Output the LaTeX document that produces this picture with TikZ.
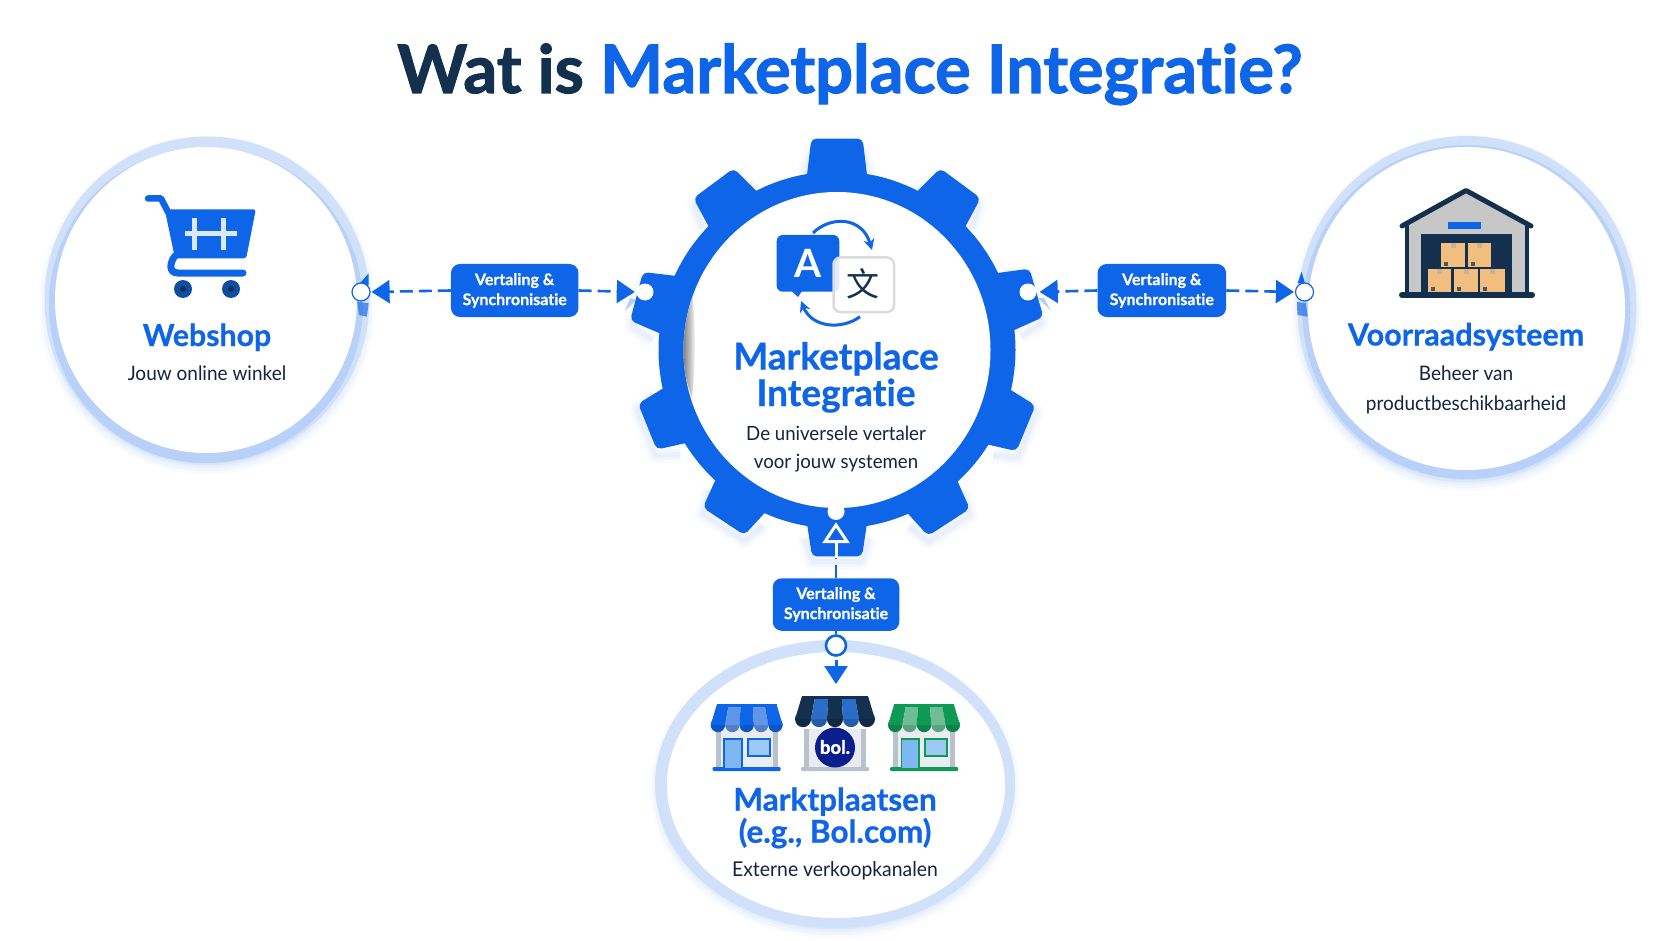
\documentclass[tikz,border=0pt]{standalone}
\usepackage{fontspec}
\setmainfont{Lato}[Ligatures={TeX,NoCommon}]
\newfontfamily\bodyfont{Lato}[Ligatures={TeX,NoCommon},FakeStretch=0.95]
\newfontfamily\headfont{Lato Bold}[Ligatures={TeX,NoCommon},FakeBold=0.7]
\newfontfamily\titlefont{Lato Bold}[Ligatures={TeX,NoCommon},FakeBold=1.6]
\newfontfamily\cjkfont{Noto Sans CJK SC}
\usetikzlibrary{arrows.meta,calc,shapes.geometric}
\definecolor{mainblue}{HTML}{0F65E8}
\definecolor{navy}{HTML}{14304F}
\definecolor{ringblue}{HTML}{D2E1FA}
\definecolor{ringdark}{HTML}{B9D0F8}
\definecolor{inkdark}{HTML}{14243F}
\definecolor{greenA}{HTML}{0E9A55}
\definecolor{greenB}{HTML}{6DBE96}
\definecolor{lightblue}{HTML}{5F96E8}
\definecolor{midblue}{HTML}{2B6CC8}
\definecolor{wallgrey}{HTML}{E9ECF1}
\definecolor{pillar}{HTML}{B9C1CC}
\definecolor{boxtan}{HTML}{F1BE80}
\definecolor{boxtape}{HTML}{C9B193}
\definecolor{bolblue}{HTML}{0B1E8E}
\definecolor{glass}{HTML}{7DB8F2}
\tikzset{
  head/.style={font=\headfont\fontsize{#1}{#1}\selectfont,text=mainblue,inner sep=0pt,anchor=base},
  body/.style={font=\bodyfont\fontsize{#1}{#1}\selectfont,text=inkdark,inner sep=0pt,anchor=base},
  lbl/.style={fill=mainblue,rounded corners=9pt,inner sep=0pt,text=white,align=center,font=\headfont\fontsize{16}{20}\selectfont},
  port/.style={circle,fill=white,inner sep=0pt,minimum size=17pt},
  flow/.style={draw=mainblue,line width=2.6pt,dash pattern=on 13pt off 6pt},
  tip/.style={-{Triangle[length=18pt,width=23pt]}},
}
% store: centre x, top y, scale, strong colour, pale colour
\newcommand{\awning}[5]{%
  \begin{scope}[shift={(#1,#2)},scale=#3]
    \foreach \i/\c in {0/#4,1/#5,2/#4,3/#5,4/#4}{
      \fill[\c!85!black] (-28.8+14.4*\i,20) circle[radius=7.2];
      \fill[\c] (-30+12*\i,0) -- (-18+12*\i,0) -- (-21.6+14.4*\i,20) -- (-36+14.4*\i,20) -- cycle;
    }
    \fill[#4] (-30,-1) rectangle (30,1.5);
  \end{scope}}
\newcommand{\storebody}[2]{%
  \begin{scope}[shift={(#1,705)}]
    \fill[wallgrey] (-31,24) rectangle (31,63);
    \fill[pillar] (-31,24) rectangle (-26,63);
    \fill[pillar] (26,24) rectangle (31,63);
    \fill[#2,rounded corners=1pt] (-34,62) rectangle (34,66);
  \end{scope}}
\newcommand{\storefront}[2]{%
  \begin{scope}[shift={(#1,705)}]
    \filldraw[fill=glass,draw=#2,line width=1.6pt] (-22.7,63) -- (-22.7,34) -- (-5,34) -- (-5,63);
    \filldraw[fill=glass!75!white,draw=#2,line width=1.6pt] (1,34) rectangle (23,51);
  \end{scope}}
\begin{document}
\begin{tikzpicture}[x=1pt,y=-1pt,line cap=butt]
\useasboundingbox (0,0) rectangle (1672,941);
\fill[white] (0,0) rectangle (1672,941);

% title
\node[font=\titlefont\fontsize{66.7}{66.7}\selectfont,inner sep=0pt,anchor=base] (title) at (850,93)
  {\textcolor{navy}{Wat is} \textcolor{mainblue}{Marketplace Integratie?}};

% soft shadows of the rings
\foreach \w/\o in {20/.025,14/.03,8/.04,3/.05}{
  \draw[mainblue,line width=\w pt,opacity=\o] (207,305) ellipse[x radius=158,y radius=159];
  \draw[mainblue,line width=\w pt,opacity=\o] (1467,313) ellipse[x radius=165,y radius=168];
  \draw[mainblue,line width=\w pt,opacity=\o] (835,789) ellipse[x radius=175,y radius=139];
}
% Webshop ring
\fill[ringblue] (207,300) ellipse[x radius=162.5,y radius=163.5];
\begin{scope}
  \clip (207,300) ellipse[x radius=162.5,y radius=163.5];
  \fill[ringdark] (206,305) ellipse[x radius=157,y radius=158];
\end{scope}
\fill[white] (206,300) ellipse[x radius=151,y radius=153];
% Voorraadsysteem ring
\fill[ringblue] (1467,308) ellipse[x radius=169.5,y radius=172];
\begin{scope}
  \clip (1467,308) ellipse[x radius=169.5,y radius=172];
  \fill[ringdark] (1466.5,312) ellipse[x radius=164,y radius=167];
\end{scope}
\fill[white] (1466.5,308.5) ellipse[x radius=158.5,y radius=161.5];
% Marktplaatsen ring
\fill[ringblue] (835,784) ellipse[x radius=180,y radius=144];
\fill[white] (836,785) ellipse[x radius=169,y radius=133];

% gear
\begin{scope}[shift={(837,350)}]
  \foreach \w/\o in {16/.02,10/.03,5/.04}{
    \begin{scope}[yshift=-6pt]
      \foreach \a in {-53.5,-16,22.5,57,90,123.5,158,195,233.5,270}{
        \draw[mainblue,line width=\w pt,opacity=\o,line join=round] (\a-10:185) -- (\a-6.8:207) -- (\a+6.8:207) -- (\a+10:185);
      }
    \end{scope}
  }
  \fill[mainblue] (0,0) circle[radius=178.5];
  \foreach \a/\r in {-90/213,-53.5/209,-16/209,22.5/206,57/207,90/208,123.5/207,158/206,195/209,233.5/209}{
    \fill[mainblue,rounded corners=5pt] (\a-10.5:170) -- (\a-6.9:\r) -- (\a+6.9:\r) -- (\a+10.5:170) -- cycle;
  }
  \fill[white] (0,0) ellipse[x radius=153.5,y radius=158];
\end{scope}
\begin{scope}
  \clip (837,350) ellipse[x radius=153.5,y radius=158];
  \shade[left color=black!70,right color=white] (690,272) .. controls (678,320) and (678,360) .. (692,398) .. controls (696,360) and (696,320) .. cycle;
\end{scope}

% blue flecks where the connectors meet the rings
\fill[mainblue] (368.7,273.3) -- (359.9,283.3) -- (368.7,285) -- cycle;
\fill[mainblue,opacity=.65] (357,301.7) -- (368.7,303.3) -- (366.8,316.7) -- (359,315) -- cycle;
\fill[mainblue] (1301.6,271.7) -- (1297.6,283.3) -- (1305,283.3) -- cycle;
\fill[mainblue,opacity=.65] (1296.7,301.7) -- (1305.7,303.3) -- (1307.8,316.7) -- (1297.5,315) -- cycle;
\fill[mainblue,opacity=.3] (630,298) -- (636,300) -- (625,311) -- cycle;
\fill[mainblue,opacity=.3] (1038,298) -- (1044,298) -- (1051,311) -- cycle;

% ports and labels
\node[port,draw=mainblue,line width=1.2pt,minimum size=18pt] (pW) at (361,292) {};
\node[port] (pGL) at (645,292) {};
\node[port] (pGR) at (1028,292) {};
\node[port,draw=mainblue,line width=1.2pt,minimum size=18pt] (pV) at (1304.5,292) {};
\node[port] (pGB) at (836,511.5) {};
\node[port,draw=mainblue,line width=2.6pt,minimum size=20pt] (pM) at (836,645.5) {};
\node[lbl,minimum width=127.5pt,minimum height=53pt] (lA) at (514.7,290.5) {\raisebox{-1pt}{Vertaling \&}\\\raisebox{-1pt}{Synchronisatie}};
\node[lbl,minimum width=128.5pt,minimum height=53pt] (lB) at (1161.8,290.5) {\raisebox{-1pt}{Vertaling \&}\\\raisebox{-1pt}{Synchronisatie}};
\node[lbl,minimum width=126.5pt,minimum height=52.5pt] (lC) at (836,604.5) {Vertaling \&\\Synchronisatie};
\coordinate (toothEdge) at (836,558);
\coordinate (mTip) at (836,684);

% connectors
\draw[flow,tip,mainblue,shorten >=1pt] (lA.west) -- (pW.east);
\draw[flow,tip,mainblue,shorten >=1.5pt] (lA.east) -- (pGL.west);
\draw[flow,tip,mainblue,shorten >=3pt] (lB.west) -- (pGR.east);
\draw[flow,tip,mainblue,shorten >=1pt] (lB.east) -- (pV.west);
\draw[flow] (lC.north) -- (toothEdge);
\draw[white,line width=3pt,-{Triangle[length=21pt,width=27pt,fill=mainblue]},shorten >=2pt] (toothEdge) -- (pGB.south);
\draw[mainblue,line width=2.6pt] (lC.south) -- (pM.north);
\draw[mainblue,line width=3pt,tip,shorten <=3pt] (pM.south) -- (mTip);

% shopping cart
\draw[mainblue,line width=6.5pt,line cap=round,line join=round] (148,198.5) -- (161,198.5) -- (168,212);
\fill[mainblue,rounded corners=2.5pt] (164.7,209.3) -- (255.8,209.3) -- (246.2,258.3) -- (175,258.3) -- cycle;
\draw[mainblue,line width=7pt,line cap=round] (175,256) .. controls (170,262) and (168,273) .. (178,273) -- (243,273);
\draw[white!85!mainblue,line width=4.5pt] (194.6,218) -- (194.6,250) (223.3,218) -- (223.3,250) (185,233.3) -- (236.7,233.3);
\foreach \x in {183,231}{
  \fill[mainblue!55!navy] (\x,289) ellipse[x radius=9,y radius=9];
  \fill[navy] (\x,289) circle[radius=3];
}

% translate icon
\draw[mainblue,line width=3pt,-{Stealth[length=11pt,width=11pt]}] (813,233) .. controls (830,216) and (862,216) .. (872,250);
\draw[mainblue,line width=3pt,-{Stealth[length=11pt,width=11pt]}] (860,316.7) .. controls (842,330) and (812,328) .. (801,301);
\fill[mainblue] (785,285) -- (798,297) -- (804,288) -- cycle;
\fill[mainblue,rounded corners=6pt] (776.7,235) rectangle (839.3,291.7);
\node[font=\bfseries\fontsize{39}{39}\selectfont,text=white,inner sep=0pt,anchor=base] (glyphA) at (808,277) {A};
\filldraw[fill=white,fill opacity=.88,draw=black!14,line width=2.5pt,rounded corners=7pt] (833.5,257.5) rectangle (894,312);
\node[font=\cjkfont\fontsize{33}{33}\selectfont,text=navy,inner sep=0pt] (glyphZ) at (863,284) {文};

% warehouse
\fill[black!22!white] (1407,225) -- (1466,192) -- (1527,225) -- (1527,293) -- (1407,293) -- cycle;
\fill[navy] (1420.8,234) rectangle (1511.8,293);
\fill[mainblue] (1447.8,222.3) rectangle (1481,229.3);
\draw[navy,line width=5pt,line cap=round,line join=round] (1402,226) -- (1466,190.5) -- (1531,226);
\draw[navy,line width=4.5pt] (1407,224) -- (1407,293) (1527,224) -- (1527,293);
\draw[navy,line width=6pt,line cap=round] (1402,295) -- (1532,295);
\foreach \xa/\xb/\ya/\yb in {1441/1465/243.3/266.7,1467.7/1491.4/243.3/266.7,1428/1451.4/269.3/292.3,1454.3/1478/269.3/292.3,1480.4/1505/269.3/292.3}{
  \fill[boxtan] (\xa,\ya) rectangle (\xb,\yb);
  \fill[boxtape] ({(\xa+\xb)/2-2.5},\ya) rectangle ({(\xa+\xb)/2+2.5},\ya+5);
  \fill[navy!70!boxtape] (\xa+3,\yb-5) rectangle (\xa+7,\yb-1);
}

% stores
\storebody{746.7}{mainblue}
\storefront{746.7}{mainblue}
\awning{746.7}{705}{1}{mainblue}{lightblue}
\storebody{835}{pillar}
\awning{835}{697}{1.11}{navy}{midblue}
\node[circle,fill=bolblue,minimum size=40pt,inner sep=0pt] (bolc) at (835,747.5) {};
\node[font=\titlefont\fontsize{18.5}{18.5}\selectfont,text=white,inner sep=0pt] (bolt) at (835,747) {bol.};
\storebody{924}{greenA}
\storefront{924}{greenA}
\awning{924}{705}{1}{greenA}{greenB}

% texts
\node[head=30.3] (t1) at (207,346) {Webshop};
\node[body=20] (t2) at (207,380.7) {Jouw online winkel};
\node[head=30.5] (t3) at (1466,345.5) {Voorraadsysteem};
\node[body=20] (t4) at (1466,380.7) {Beheer van};
\node[body=20] (t5) at (1466,410) {productbeschikbaarheid};
\node[head=37] (t6) at (836,369.5) {Marketplace};
\node[head=37] (t7) at (836,406) {Integratie};
\node[body=19.6] (t8) at (836,440.7) {De universele vertaler};
\node[body=19.6] (t9) at (836,468) {voor jouw systemen};
\node[head=31.5] (t10) at (835,810.7) {Marktplaatsen};
\node[head=31.5] (t11) at (835,842.7) {(e.g., Bol.com)};
\node[body=20.4] (t12) at (835,876.7) {Externe verkoopkanalen};
\end{tikzpicture}
\end{document}
